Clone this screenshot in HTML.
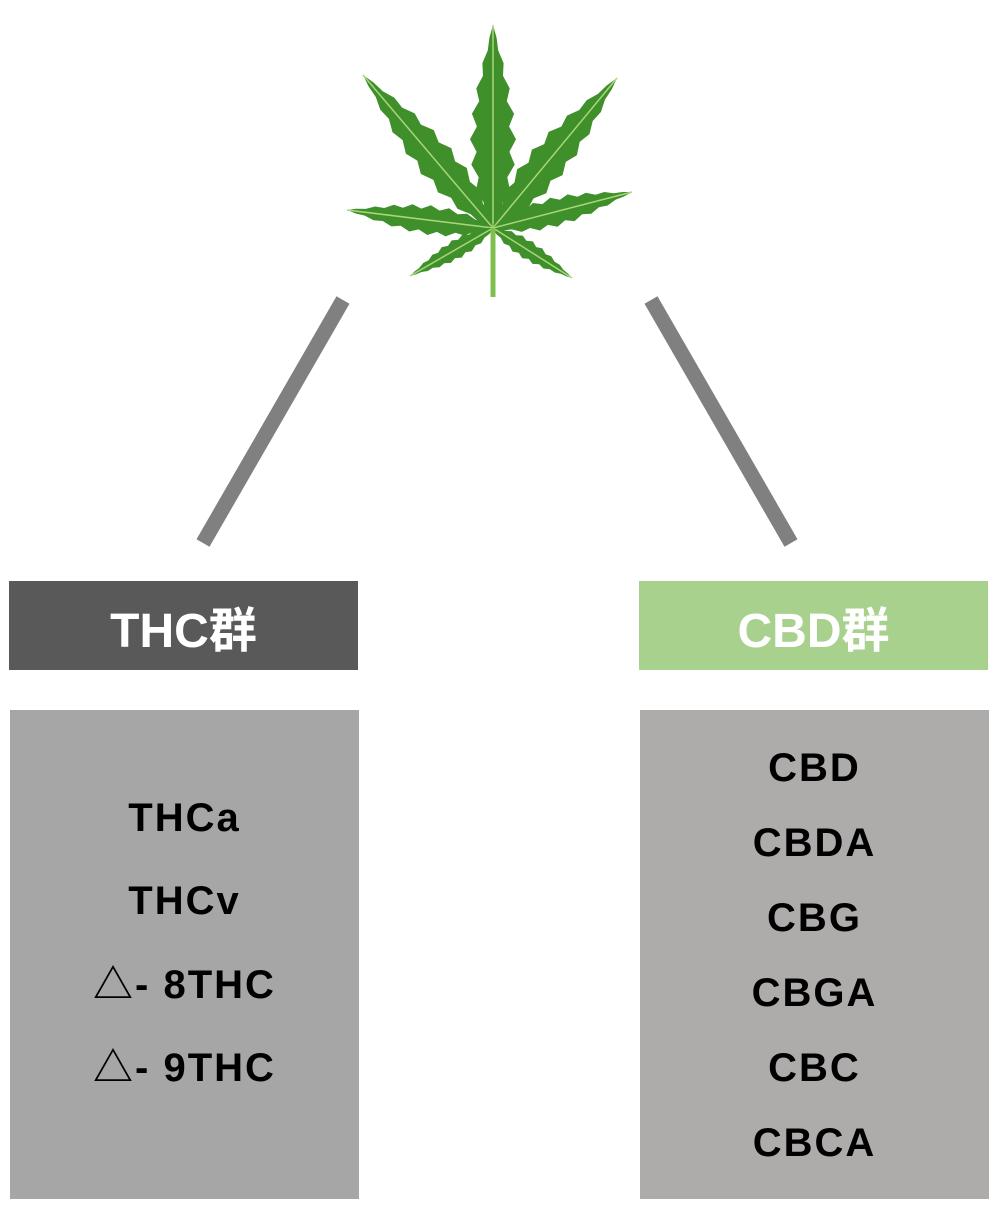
<!DOCTYPE html>
<html><head><meta charset="utf-8">
<style>
html,body{margin:0;padding:0;background:#fff;}
body{width:1000px;height:1232px;position:relative;overflow:hidden;font-family:"Liberation Sans","Noto Sans CJK JP",sans-serif;}
.box{position:absolute;}
.hdr{color:#fff;font-weight:bold;font-size:48px;display:flex;align-items:center;justify-content:center;}
.item{position:absolute;left:0;width:100%;text-align:center;font-weight:bold;font-size:40px;letter-spacing:2px;color:#000;line-height:40px;}
</style></head><body>
<svg id="art" width="1000" height="1232" style="position:absolute;left:0;top:0">
  <line x1="343" y1="300" x2="203" y2="543" stroke="#808080" stroke-width="15"/>
  <line x1="651" y1="300" x2="791" y2="543" stroke="#808080" stroke-width="15"/>
  <g id="leaf"></g>
</svg>

<div class="box hdr" style="left:9px;top:581px;width:349px;height:89px;background:#595959;">THC群</div>
<div class="box hdr" style="left:639px;top:581px;width:349px;height:89px;background:#a9d18e;">CBD群</div>

<div class="box" style="left:10px;top:710px;width:349px;height:489px;background:#a6a6a6;">
  <div class="item" style="top:88px">THCa</div>
  <div class="item" style="top:171px">THCv</div>
  <div class="item" style="top:255px">△- 8THC</div>
  <div class="item" style="top:338px">△- 9THC</div>
</div>
<div class="box" style="left:640px;top:710px;width:349px;height:489px;background:#aeabab;">
  <div class="item" style="top:38px">CBD</div>
  <div class="item" style="top:113px">CBDA</div>
  <div class="item" style="top:188px">CBG</div>
  <div class="item" style="top:263px">CBGA</div>
  <div class="item" style="top:338px">CBC</div>
  <div class="item" style="top:413px">CBCA</div>
</div>

<script>
const cx=493, cy=228;
const tips=[[493,25,23],[363,75,20],[617,78,20],[347,210,15],[632,192,15],[410,276,10],[572,278,10]];
const g=document.getElementById('leaf');
const NS='http://www.w3.org/2000/svg';
tips.forEach(function(t){
  const dx=t[0]-cx, dy=t[1]-cy, L=Math.hypot(dx,dy);
  const ux=dx/L, uy=dy/L, px=-uy, py=ux, W=t[2];
  const n=16, left=[], right=[];
  for(let i=0;i<=n;i++){
    const s=i/n;
    let w=W*Math.sin(Math.PI*Math.pow(s,0.8))*(i%2?1:0.72);
    const x=cx+dx*s, y=cy+dy*s;
    left.push((x+px*w).toFixed(1)+','+(y+py*w).toFixed(1));
    right.unshift((x-px*w).toFixed(1)+','+(y-py*w).toFixed(1));
  }
  const poly=document.createElementNS(NS,'polygon');
  poly.setAttribute('points',left.concat(right).join(' '));
  poly.setAttribute('fill','#3f8f2a');
  
  
  g.appendChild(poly);
  const vein=document.createElementNS(NS,'line');
  vein.setAttribute('x1',cx);vein.setAttribute('y1',cy);
  vein.setAttribute('x2',t[0]);vein.setAttribute('y2',t[1]);
  vein.setAttribute('stroke','#a8d67a');vein.setAttribute('stroke-width','1.5');
  
  
  g.appendChild(vein);
});
const stem=document.createElementNS(NS,'line');
stem.setAttribute('x1',cx);stem.setAttribute('y1',cy);
stem.setAttribute('x2',cx);stem.setAttribute('y2',297);
stem.setAttribute('stroke','#7fbf4f');stem.setAttribute('stroke-width','5');


g.appendChild(stem);
</script>
</body></html>
